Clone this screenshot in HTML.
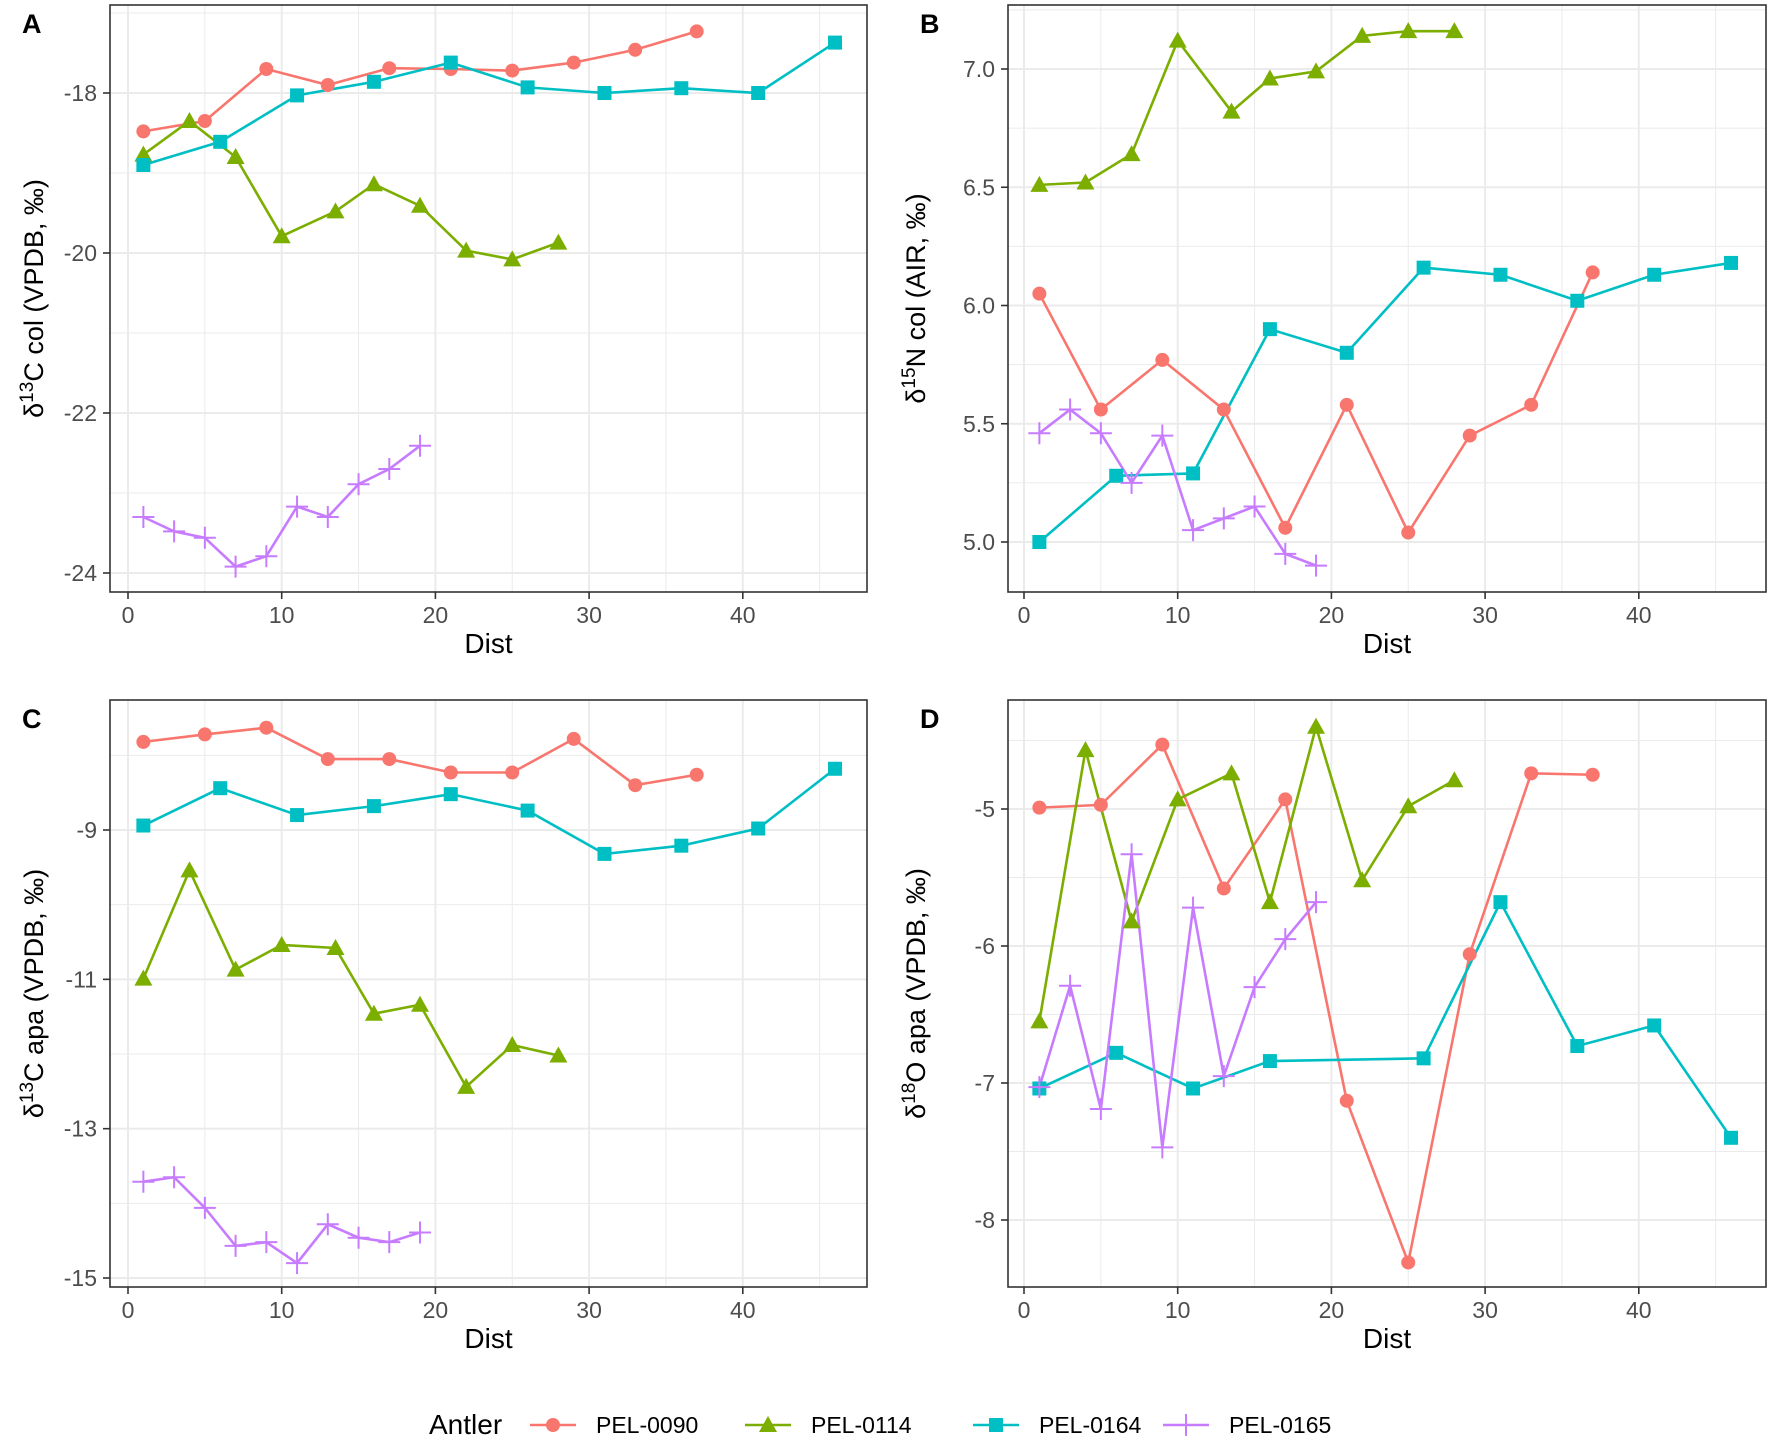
<!DOCTYPE html>
<html><head><meta charset="utf-8"><style>
html,body{margin:0;padding:0;background:#fff}
svg{display:block;font-family:"Liberation Sans",Arial,sans-serif}
</style></head><body>
<svg id="s" width="1772" height="1441" viewBox="0 0 1772 1441" xmlns="http://www.w3.org/2000/svg"></svg>
<script>
const S=document.getElementById('s');let h='';
const C={a:'#F8766D',b:'#7CAE00',c:'#00BFC4',d:'#C77CFF'};
const X1=[1,5,9,13,17,21,25,29,33,37],X2=[1,4,7,10,13.5,16,19,22,25,28],X3=[1,6,11,16,21,26,31,36,41,46],X4=[1,3,5,7,9,11,13,15,17,19];
const panels=[
{L:'A',x0:110,x1:867,y0:5,y1:592,xz:128,ys:[-18,93,80],ticks:[-18,-20,-22,-24],minor:[-17,-19,-21,-23],fmt:v=>v,
 title:['δ','13','C col (VPDB, ‰)'],tx:43,
 data:[[X1,[-18.48,-18.35,-17.70,-17.9,-17.69,-17.70,-17.72,-17.62,-17.46,-17.23],'a'],
 [X2,[-18.77,-18.35,-18.80,-19.79,-19.48,-19.14,-19.41,-19.97,-20.08,-19.87],'b'],
 [X3,[-18.90,-18.61,-18.03,-17.86,-17.62,-17.93,-18.00,-17.94,-18.00,-17.37],'c'],
 [X4,[-23.30,-23.48,-23.56,-23.92,-23.79,-23.17,-23.30,-22.89,-22.70,-22.41],'d']]},
{L:'B',x0:1008,x1:1766,y0:5,y1:592,xz:1024,ys:[7,69,236.5],ticks:[7,6.5,6,5.5,5],minor:[7.25,6.75,6.25,5.75,5.25],fmt:v=>v.toFixed(1),
 title:['δ','15','N col (AIR, ‰)'],tx:925,
 data:[[X1,[6.05,5.56,5.77,5.56,5.06,5.58,5.04,5.45,5.58,6.14],'a'],
 [X2,[6.51,6.52,6.64,7.12,6.82,6.96,6.99,7.14,7.16,7.16],'b'],
 [X3,[5.0,5.28,5.29,5.90,5.80,6.16,6.13,6.02,6.13,6.18],'c'],
 [X4,[5.46,5.56,5.46,5.25,5.45,5.05,5.10,5.15,4.95,4.90],'d']]},
{L:'C',x0:110,x1:867,y0:700,y1:1287,xz:128,ys:[-9,830,74.67],ticks:[-9,-11,-13,-15],minor:[-8,-10,-12,-14],fmt:v=>v,
 title:['δ','13','C apa (VPDB, ‰)'],tx:43,
 data:[[X1,[-7.82,-7.72,-7.63,-8.05,-8.05,-8.23,-8.23,-7.78,-8.40,-8.26],'a'],
 [X2,[-10.99,-9.54,-10.87,-10.54,-10.58,-11.46,-11.34,-12.44,-11.88,-12.02],'b'],
 [X3,[-8.94,-8.44,-8.80,-8.68,-8.52,-8.74,-9.32,-9.21,-8.98,-8.18],'c'],
 [X4,[-13.71,-13.65,-14.06,-14.57,-14.52,-14.80,-14.28,-14.46,-14.52,-14.39],'d']]},
{L:'D',x0:1008,x1:1766,y0:700,y1:1287,xz:1024,ys:[-5,809,137],ticks:[-5,-6,-7,-8],minor:[-4.5,-5.5,-6.5,-7.5],fmt:v=>v,
 title:['δ','18','O apa (VPDB, ‰)'],tx:925,
 data:[[X1,[-4.99,-4.97,-4.53,-5.58,-4.93,-7.13,-8.31,-6.06,-4.74,-4.75],'a'],
 [X2,[-6.55,-4.57,-5.82,-4.93,-4.74,-5.68,-4.40,-5.52,-4.98,-4.79],'b'],
 [[1,6,11,16,26,31,36,41,46],[-7.04,-6.78,-7.04,-6.84,-6.82,-5.68,-6.73,-6.58,-7.40],'c'],
 [X4,[-7.03,-6.29,-7.19,-5.33,-7.47,-5.72,-6.95,-6.30,-5.95,-5.68],'d']]}
];
function pt(k,x,y){const c=C[k];
 if(k=='a')return `<circle cx="${x}" cy="${y}" r="7" fill="${c}"/>`;
 if(k=='b')return `<polygon points="${x},${y-9} ${x-9},${y+7} ${x+9},${y+7}" fill="${c}"/>`;
 if(k=='c')return `<rect x="${x-7}" y="${y-7}" width="14" height="14" fill="${c}"/>`;
 return `<path d="M${x-11},${y}H${x+11}M${x},${y-11}V${y+11}" stroke="${c}" stroke-width="2"/>`;}
for(const p of panels){
 const xs=v=>p.xz+v*15.37, ys=v=>p.ys[1]-(v-p.ys[0])*p.ys[2];
 h+=`<clipPath id="c${p.L}"><rect x="${p.x0}" y="${p.y0}" width="${p.x1-p.x0}" height="${p.y1-p.y0}"/></clipPath><g clip-path="url(#c${p.L})">`;
 for(const m of p.minor)h+=`<line x1="${p.x0}" x2="${p.x1}" y1="${ys(m)}" y2="${ys(m)}" stroke="#ebebeb" stroke-width="1"/>`;
 for(const m of [5,15,25,35,45])h+=`<line y1="${p.y0}" y2="${p.y1}" x1="${xs(m)}" x2="${xs(m)}" stroke="#ebebeb" stroke-width="1"/>`;
 for(const t of p.ticks)h+=`<line x1="${p.x0}" x2="${p.x1}" y1="${ys(t)}" y2="${ys(t)}" stroke="#ebebeb" stroke-width="2"/>`;
 for(const t of [0,10,20,30,40])h+=`<line y1="${p.y0}" y2="${p.y1}" x1="${xs(t)}" x2="${xs(t)}" stroke="#ebebeb" stroke-width="2"/>`;
 for(const [X,Y,k] of p.data){h+=`<polyline fill="none" stroke="${C[k]}" stroke-width="2.6" points="${X.map((x,i)=>xs(x)+','+ys(Y[i])).join(' ')}"/>`;}
 for(const [X,Y,k] of p.data){X.forEach((x,i)=>h+=pt(k,xs(x),ys(Y[i])));}
 h+=`</g><rect x="${p.x0}" y="${p.y0}" width="${p.x1-p.x0}" height="${p.y1-p.y0}" fill="none" stroke="#333" stroke-width="1.6"/>`;
 for(const t of p.ticks){const y=ys(t);h+=`<line x1="${p.x0-7}" x2="${p.x0}" y1="${y}" y2="${y}" stroke="#333" stroke-width="1.6"/><text x="${p.x0-13}" y="${y+8}" font-size="23" fill="#4d4d4d" text-anchor="end">${p.fmt(t)}</text>`;}
 for(const t of [0,10,20,30,40]){const x=xs(t);h+=`<line y1="${p.y1}" y2="${p.y1+7}" x1="${x}" x2="${x}" stroke="#333" stroke-width="1.6"/><text x="${x}" y="${p.y1+31}" font-size="23" fill="#4d4d4d" text-anchor="middle">${t}</text>`;}
 h+=`<text x="${(p.x0+p.x1)/2}" y="${p.y1+61}" font-size="28" text-anchor="middle">Dist</text>`;
 const cy=(p.y0+p.y1)/2;
 h+=`<text transform="translate(${p.tx},${cy}) rotate(-90)" font-size="27" text-anchor="middle">${p.title[0]}<tspan font-size="19" dy="-10">${p.title[1]}</tspan><tspan dy="10">${p.title[2]}</tspan></text>`;
 h+=`<text x="${p.x0-88}" y="${p.y0+28}" font-size="27" font-weight="bold">${p.L}</text>`;
}
h+=`<text x="429" y="1434" font-size="28">Antler</text>`;
const lg=[['a',530,'PEL-0090'],['b',745,'PEL-0114'],['c',973,'PEL-0164'],['d',1163,'PEL-0165']];
for(const [k,x,t] of lg){h+=`<line x1="${x}" x2="${x+46}" y1="1425" y2="1425" stroke="${C[k]}" stroke-width="2.6"/>`+pt(k,x+23,1425)+`<text x="${x+66}" y="1433" font-size="23">${t}</text>`;}
S.innerHTML=h;
</script>
</body></html>
